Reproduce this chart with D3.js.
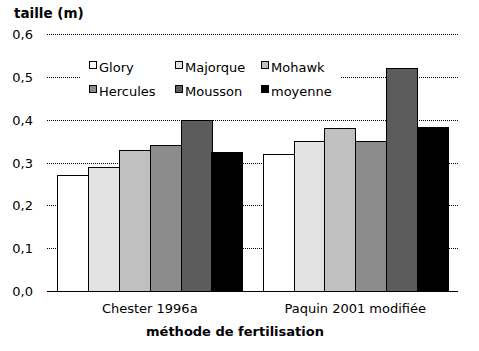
<!DOCTYPE html>
<html><head><meta charset="utf-8">
<script src="https://cdn.jsdelivr.net/npm/d3@7"></script>
<style>body{margin:0;background:#fff}svg{display:block}text{font-family:"DejaVu Sans",Verdana,sans-serif}</style>
</head><body><svg id="c" width="479" height="351"></svg>
<script>
const categories = ["Chester 1996a", "Paquin 2001 modifiée"];
const series = ["Glory", "Majorque", "Mohawk", "Hercules", "Mousson", "moyenne"];
const glory = [0.27, 0.32];
const majorque = [0.29, 0.35];
const mohawk = [0.33, 0.38];
const hercules = [0.34, 0.35];
const mousson = [0.40, 0.52];
const moyenne = [0.324, 0.383];
const colors = ["#ffffff", "#e3e3e3", "#c0c0c0", "#8c8c8c", "#5c5c5c", "#000000"];
const yTicks = [0, 0.1, 0.2, 0.3, 0.4, 0.5, 0.6];
const values = [glory, majorque, mohawk, hercules, mousson, moyenne];

const svg = d3.select("#c");
const L = 47, R = 458, T = 34, B = 291;
const x0 = d3.scaleBand().domain(categories).range([L, R]).paddingInner(0.1).paddingOuter(0.05);
const x1 = d3.scaleBand().domain(series).range([0, x0.bandwidth()]);
const y = d3.scaleLinear().domain([0, 0.6]).range([B, T]);
const fmt = d => d.toFixed(1).replace(".", ",");

// gridlines
svg.append("g").selectAll("line").data(yTicks.filter(d => d > 0)).join("line")
  .attr("x1", L).attr("x2", R).attr("y1", d => Math.round(y(d)) + 0.5).attr("y2", d => Math.round(y(d)) + 0.5)
  .attr("stroke", "#000").attr("stroke-width", 1).attr("stroke-dasharray", "1,1");

// y labels
svg.append("g").selectAll("text").data(yTicks).join("text")
  .attr("x", 33).attr("y", d => Math.round(y(d)) + 5).attr("text-anchor", "end")
  .attr("font-size", 13).attr("fill", "#000").text(fmt);

// bars
categories.forEach((c, ci) => {
  svg.append("g").selectAll("rect").data(series).join("rect")
    .attr("x", s => Math.round(x0(c) + x1(s)) + 0.5)
    .attr("y", (s, si) => Math.round(y(values[si][ci])) + 0.5)
    .attr("width", Math.round(x1.bandwidth()))
    .attr("height", (s, si) => Math.round(B - y(values[si][ci])))
    .attr("fill", (s, si) => colors[si]).attr("stroke", "#000").attr("stroke-width", 1);
});

// baseline
svg.append("line").attr("x1", L).attr("x2", R).attr("y1", B + 0.5).attr("y2", B + 0.5).attr("stroke", "#000");

// x labels
svg.append("g").selectAll("text").data(categories).join("text")
  .attr("x", d => x0(d) + x0.bandwidth() / 2).attr("y", 313).attr("text-anchor", "middle")
  .attr("font-size", 13).attr("fill", "#000").text(d => d);

// legend
const lg = svg.append("g");
lg.append("rect").attr("x", 80).attr("y", 52).attr("width", 260).attr("height", 52).attr("fill", "#fff");
const lx = [89, 175, 261], ly = [67, 91];
series.forEach((s, i) => {
  const gx = lx[i % 3], gy = ly[Math.floor(i / 3)];
  lg.append("rect").attr("x", gx + 0.5).attr("y", gy - 5.5).attr("width", 7).attr("height", 7)
    .attr("fill", colors[i]).attr("stroke", "#000");
  lg.append("text").attr("x", gx + 10).attr("y", gy + 4.5).attr("font-size", 13).attr("fill", "#000").text(s);
});

// titles
svg.append("text").attr("x", 14).attr("y", 18).attr("font-size", 13.5).attr("font-weight", "bold").text("taille (m)");
svg.append("text").attr("x", 235).attr("y", 336).attr("text-anchor", "middle").attr("font-size", 13).attr("font-weight", "bold").text("méthode de fertilisation");
</script></body></html>
